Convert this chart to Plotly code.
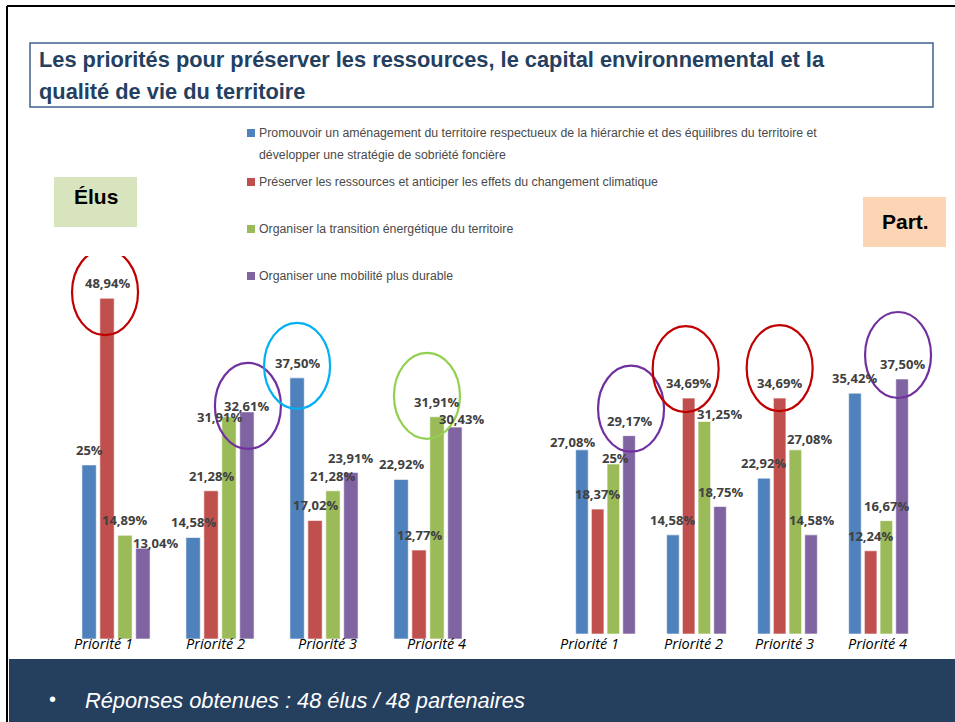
import plotly.graph_objects as go

# ---------------- data ----------------
categories = ["Priorité 1", "Priorité 2", "Priorité 3", "Priorité 4"]
series_names = [
    "Promouvoir un aménagement du territoire respectueux de la hiérarchie et des équilibres du territoire et développer une stratégie de sobriété foncière",
    "Préserver les ressources et anticiper les effets du changement climatique",
    "Organiser la transition énergétique du territoire",
    "Organiser une mobilité plus durable",
]
legend_lines = [
    ["Promouvoir un aménagement du territoire respectueux de la hiérarchie et des équilibres du territoire et",
     "développer une stratégie de sobriété foncière"],
    ["Préserver les ressources et anticiper les effets du changement climatique"],
    ["Organiser la transition énergétique du territoire"],
    ["Organiser une mobilité plus durable"],
]
elus_promouvoir = [25.00, 14.58, 37.50, 22.92]
elus_preserver = [48.94, 21.28, 17.02, 12.77]
elus_transition = [14.89, 31.91, 21.28, 31.91]
elus_mobilite = [13.04, 32.61, 23.91, 30.43]

part_promouvoir = [27.08, 14.58, 22.92, 35.42]
part_preserver = [18.37, 34.69, 34.69, 12.24]
part_transition = [25.00, 31.25, 27.08, 16.67]
part_mobilite = [29.17, 18.75, 14.58, 37.50]

colors = ["#4F81BD", "#C0504D", "#9BBB59", "#8064A2"]

# highlighted bars: (panel, series index, category index, colour)
highlights = [
    ("elus", 1, 0, "#C00000"),
    ("elus", 3, 1, "#7030A0"),
    ("elus", 0, 2, "#00B0F0"),
    ("elus", 2, 3, "#92D050"),
    ("part", 3, 0, "#7030A0"),
    ("part", 1, 1, "#C00000"),
    ("part", 1, 2, "#C00000"),
    ("part", 3, 3, "#7030A0"),
]
# ellipse centre offsets in px relative to bar top (dx, dy up)
highlight_offsets = [(-2, 6), (1, 6), (0, 12), (-10, 21), (2, 27), (-3, 29), (0, 30), (-4, 24)]

# value-label placement tweaks (px): (panel, series, category) -> (dx, height of label centre above bar top)
label_nudges = {
    ("elus", 3, 0): (13, 5),
    ("elus", 2, 1): (-9, 0),
    ("elus", 3, 1): (0, 6),
    ("elus", 3, 3): (7, 8),
    ("part", 0, 0): (-9, 8),
    ("part", 2, 0): (2, 6),
    ("part", 2, 1): (15, 8),
    ("part", 2, 2): (14, 11),
}
# category-label horizontal tweaks (px)
cat_label_dx = {"elus": [-13, -5, 3, 8], "part": [-16, -3, -3, -1]}

W, H = 955, 722
BARGAP, GROUPGAP = 0.31, 0.2


def fmt(v):
    if abs(v - round(v)) < 1e-9:
        return f"{int(round(v))}%"
    return f"{v:.2f}".replace(".", ",") + "%"


def px(x):
    return x / W


def py(y):
    return 1 - y / H


fig = go.Figure()

elus = [elus_promouvoir, elus_preserver, elus_transition, elus_mobilite]
part = [part_promouvoir, part_preserver, part_transition, part_mobilite]
panels = {"elus": (elus, "x", "y"), "part": (part, "x2", "y2")}

for panel, (data, xa, ya) in panels.items():
    for k, vals in enumerate(data):
        fig.add_trace(go.Bar(
            x=categories, y=vals, name=series_names[k],
            marker=dict(color=colors[k], line=dict(color="rgba(255,255,255,0.6)", width=1)),
            xaxis=xa, yaxis=ya, showlegend=False,
        ))

axis_common = dict(showgrid=False, zeroline=False, showline=False, ticks="", showticklabels=False)
n = len(categories)
# Part. panel: 91 px per category, with 20 px extra room on the right for its last highlight ellipse
fig.update_layout(
    width=W, height=H, margin=dict(l=0, r=0, t=0, b=0),
    paper_bgcolor="white", plot_bgcolor="rgba(0,0,0,0)",
    barmode="group", bargap=BARGAP, bargroupgap=GROUPGAP,
    showlegend=False,
    xaxis=dict(domain=[px(64), px(480)], anchor="y", type="category", range=[-0.5, n - 0.5], **axis_common),
    yaxis=dict(domain=[py(639), py(256)], anchor="x", range=[0, 55], visible=False, **axis_common),
    xaxis2=dict(domain=[px(560), px(944)], anchor="y2", type="category",
                range=[-0.5, n - 0.5 + 20 / 91], **axis_common),
    yaxis2=dict(domain=[py(634), py(260)], anchor="x2", range=[0, 55], visible=False, **axis_common),
)

shapes = []
annotations = []

# category labels (on each panel's x axis)
for panel, (data, xa, ya) in panels.items():
    for i, c in enumerate(categories):
        annotations.append(dict(xref=xa, yref="paper", x=i, y=py(643), xanchor="center", yanchor="middle",
                                xshift=cat_label_dx[panel][i], showarrow=False, text=c,
                                font=dict(family="Open Sans", size=14.5, color="#000000", style="italic")))

# value labels (drawn above all bars)
slot = (1 - BARGAP) / 4
for panel, (data, xa, ya) in panels.items():
    for k, vals in enumerate(data):
        for i, v in enumerate(vals):
            xc = i - (1 - BARGAP) / 2 + slot * (k + 0.5)
            dx, dy = label_nudges.get((panel, k, i), (0, 15))
            annotations.append(dict(xref=xa, yref=ya, x=xc, y=v, xanchor="center", yanchor="middle",
                                    xshift=dx, yshift=dy, showarrow=False, text=fmt(v),
                                    font=dict(family="Open Sans", size=13, color="#404040", weight="bold")))

# page border
shapes.append(dict(type="line", xref="paper", yref="paper", x0=px(7), x1=1, y0=py(6), y1=py(6),
                   line=dict(color="black", width=2)))
shapes.append(dict(type="line", xref="paper", yref="paper", x0=px(7), x1=px(7), y0=py(6), y1=0,
                   line=dict(color="black", width=2)))

# title box
shapes.append(dict(type="rect", xref="paper", yref="paper", x0=px(30), x1=px(933), y0=py(107), y1=py(43),
                   line=dict(color="#41618A", width=1.5), fillcolor="rgba(0,0,0,0)"))
title_lines = ["Les priorités pour préserver les ressources, le capital environnemental et la",
               "qualité de vie du territoire"]
for i, t in enumerate(title_lines):
    annotations.append(dict(xref="paper", yref="paper", x=px(37), y=py(60 + 31 * i), xanchor="left",
                            yanchor="middle", showarrow=False, text=f"<b>{t}</b>",
                            font=dict(family="Liberation Sans", size=21.8, color="#243F60")))

# legend (squares + text)
legend_y = [[133, 155], [182], [229], [276]]
for k in range(4):
    y0 = legend_y[k][0]
    shapes.append(dict(type="rect", xref="paper", yref="paper", x0=px(247), x1=px(255),
                       y0=py(y0 + 4), y1=py(y0 - 4), line=dict(width=0), fillcolor=colors[k]))
    for j, line in enumerate(legend_lines[k]):
        annotations.append(dict(xref="paper", yref="paper", x=px(257), y=py(legend_y[k][j]), xanchor="left",
                                yanchor="middle", showarrow=False, text=line,
                                font=dict(family="Liberation Sans", size=12.3, color="#4A4A4A")))

# panel labels
shapes.append(dict(type="rect", xref="paper", yref="paper", x0=px(54), x1=px(137), y0=py(227), y1=py(177),
                   line=dict(width=0), fillcolor="#D7E4BD"))
annotations.append(dict(xref="paper", yref="paper", x=px(96), y=py(197), xanchor="center", yanchor="middle",
                        showarrow=False, text="<b>Élus</b>",
                        font=dict(family="Liberation Sans", size=21, color="black")))
shapes.append(dict(type="rect", xref="paper", yref="paper", x0=px(863), x1=px(946), y0=py(247), y1=py(197),
                   line=dict(width=0), fillcolor="#FCD5B5"))
annotations.append(dict(xref="paper", yref="paper", x=px(905), y=py(222), xanchor="center", yanchor="middle",
                        showarrow=False, text="<b>Part.</b>",
                        font=dict(family="Liberation Sans", size=21, color="black")))

# highlight ellipses, anchored on bars
for (panel, k, i, col), (dx, dy) in zip(highlights, highlight_offsets):
    data, xa, ya = panels[panel]
    xc = i - (1 - BARGAP) / 2 + slot * (k + 0.5)
    shapes.append(dict(type="circle", xref=xa, yref=ya, xsizemode="pixel", ysizemode="pixel",
                       xanchor=xc, yanchor=data[k][i],
                       x0=dx - 33, x1=dx + 33, y0=dy - 43, y1=dy + 43,
                       line=dict(color=col, width=2.2), fillcolor="rgba(0,0,0,0)"))

# bottom banner
shapes.append(dict(type="rect", xref="paper", yref="paper", x0=px(9), x1=1, y0=0, y1=py(659),
                   line=dict(width=0), fillcolor="#253F5F", layer="below"))
annotations.append(dict(xref="paper", yref="paper", x=px(52), y=py(699), xanchor="center", yanchor="middle",
                        showarrow=False, text="•",
                        font=dict(family="Liberation Sans", size=20, color="white")))
annotations.append(dict(xref="paper", yref="paper", x=px(83), y=py(700), xanchor="left", yanchor="middle",
                        showarrow=False,
                        text="<i>Réponses obtenues : 48 élus / 48 partenaires</i>",
                        font=dict(family="Liberation Sans", size=21.8, color="white")))

fig.update_layout(shapes=shapes, annotations=annotations)

fig.write_html("out.html", config={"displayModeBar": False},
               post_script="document.body.style.margin='0';document.body.style.overflow='hidden';")
